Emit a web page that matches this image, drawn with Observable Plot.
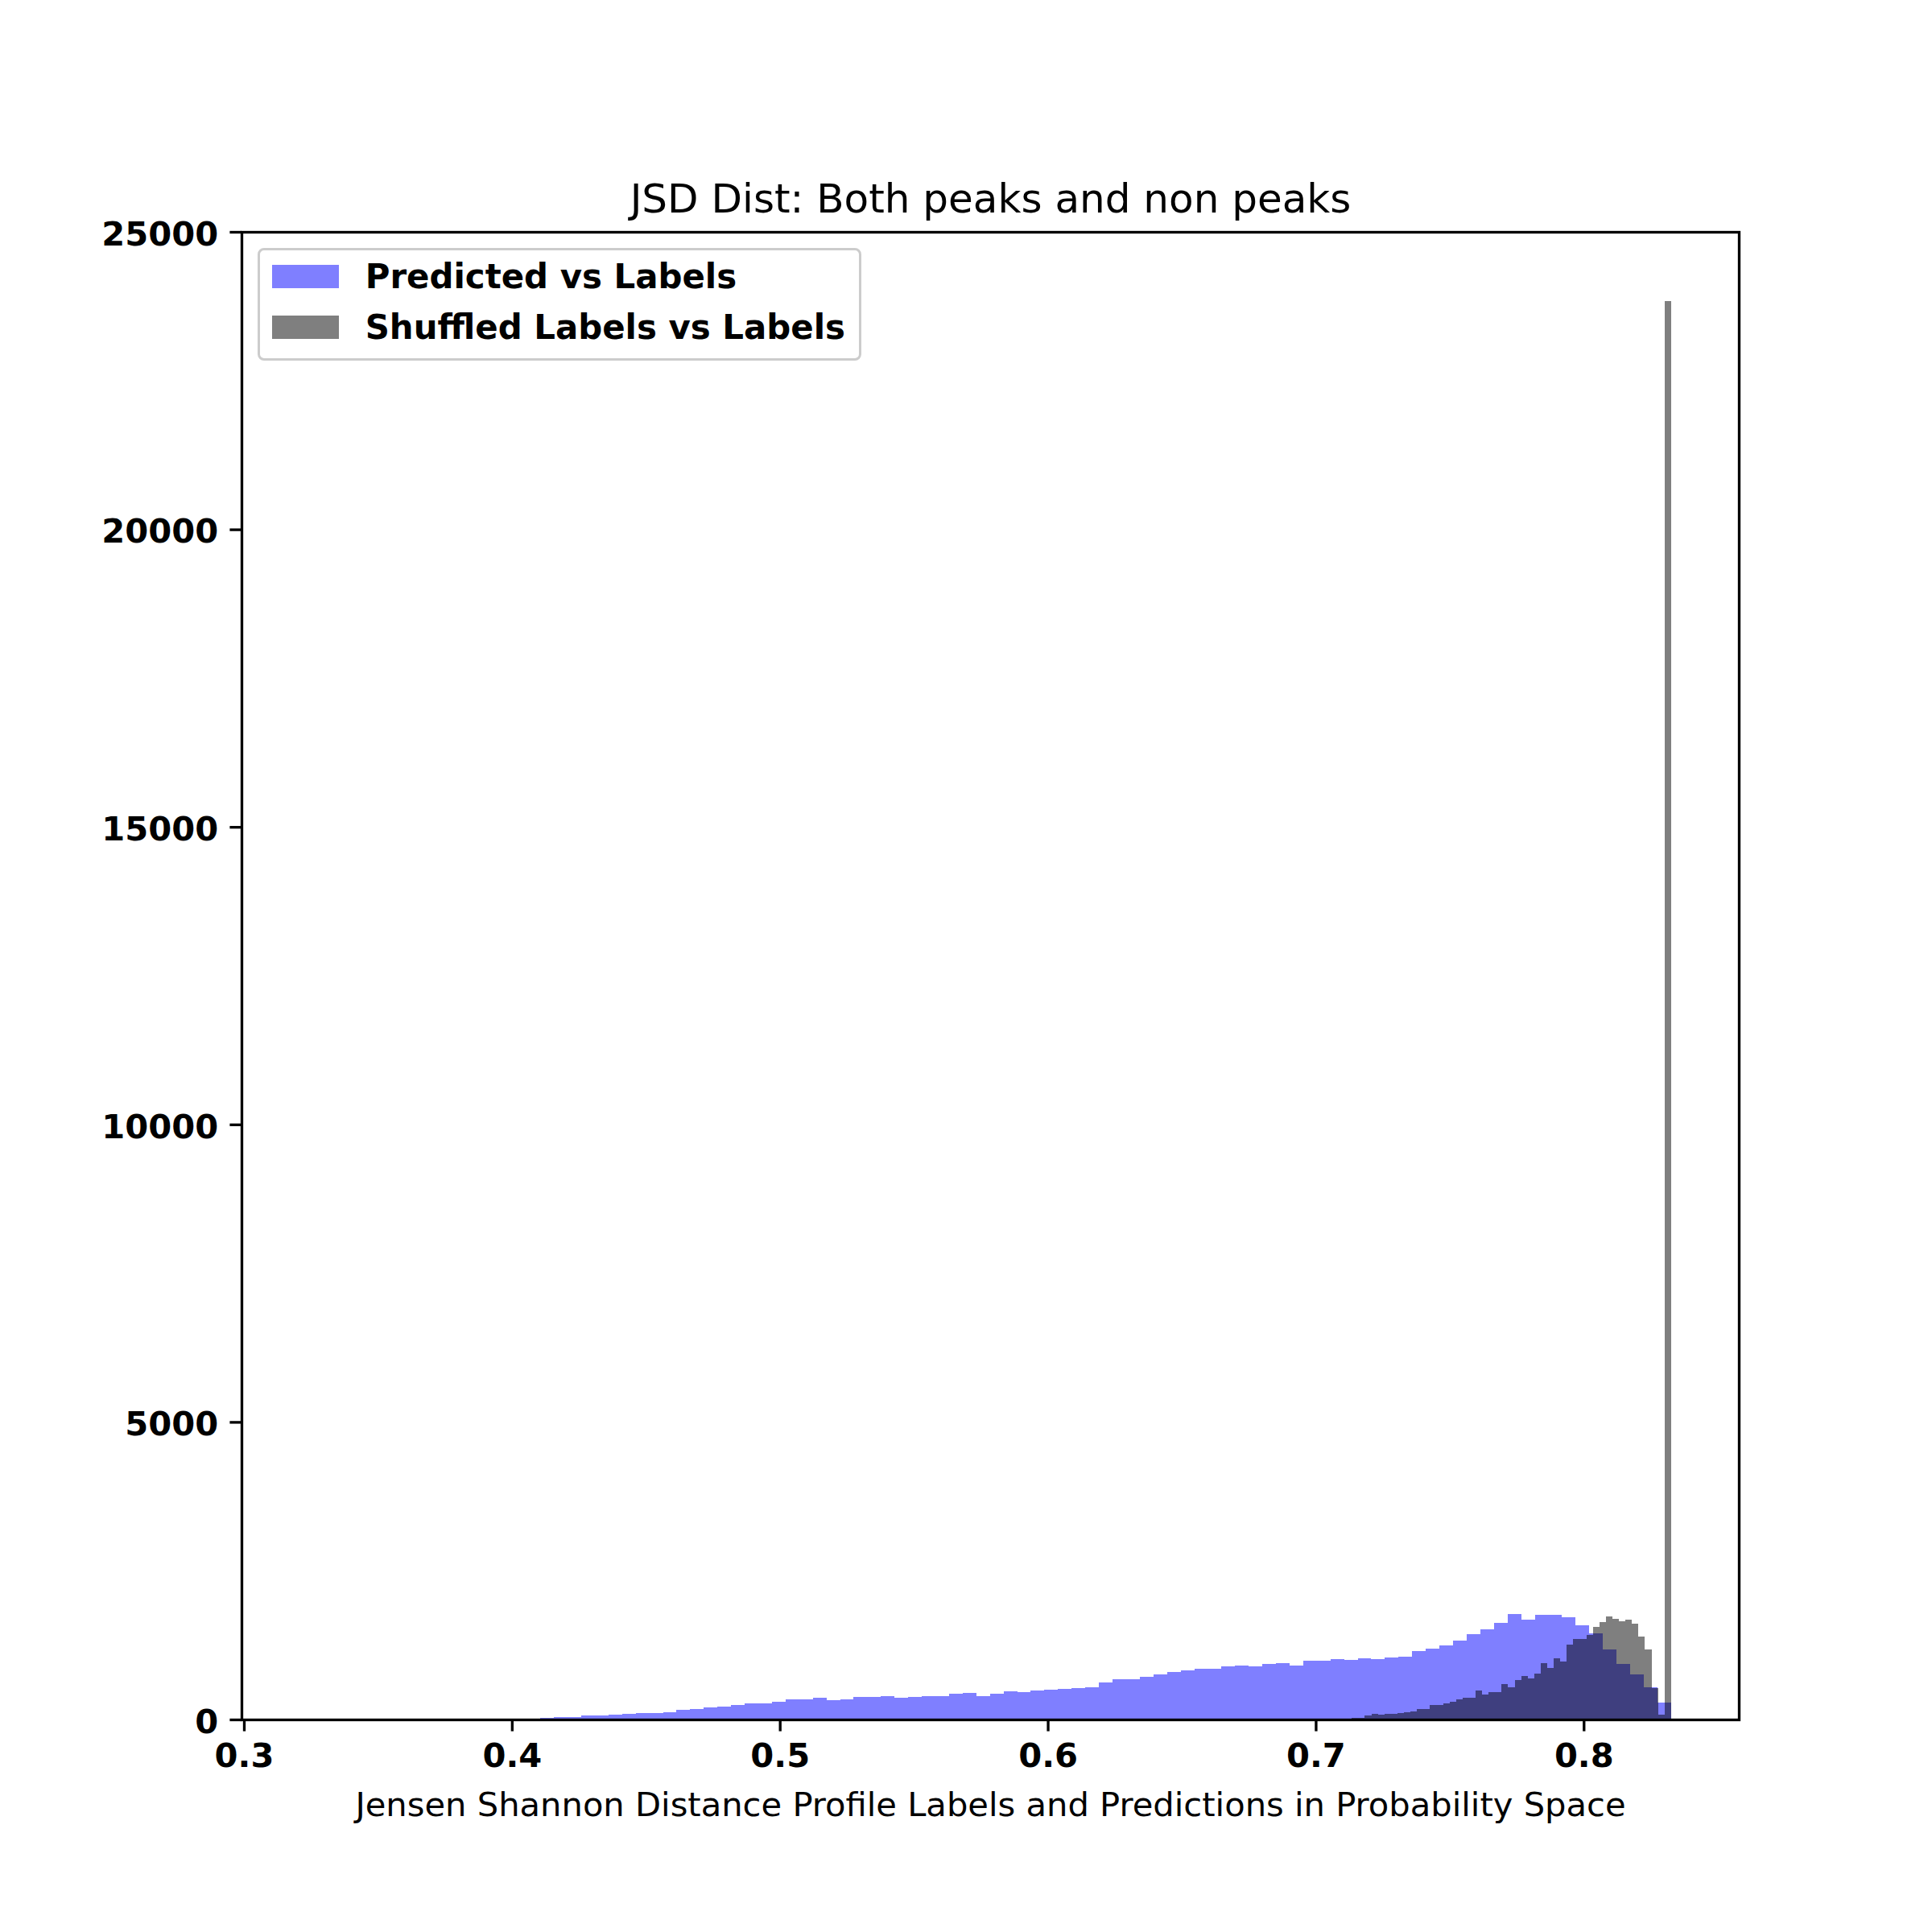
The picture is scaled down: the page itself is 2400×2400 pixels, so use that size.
<!DOCTYPE html>
<html>
<head>
<meta charset="utf-8">
<script src="https://cdn.jsdelivr.net/npm/d3@7"></script>
<script src="https://cdn.jsdelivr.net/npm/@observablehq/plot@0.6"></script>
<style>
  html, body { margin: 0; padding: 0; background: #ffffff; }
  #wrap { position: relative; width: 2400px; height: 2400px; background: #ffffff; }
  #legend {
    position: absolute; left: 320px; top: 308px; width: 750px; height: 140px;
    box-sizing: border-box; border: 3.3px solid #cccccc; border-radius: 8px;
    background: rgba(255,255,255,0.8);
    font-family: "DejaVu Sans"; font-weight: bold; font-size: 41.9px; color: #000;
  }
  .row { position: absolute; left: 14.7px; height: 29px; display: flex; align-items: center; white-space: nowrap; }
  .sw { width: 83px; height: 29px; margin-right: 33px; flex: none; }
</style>
</head>
<body>
<div id="wrap"><div id="legend"></div></div>
<script>
// ---- data ----
const titleText = "JSD Dist: Both peaks and non peaks";
const xLabelText = "Jensen Shannon Distance Profile Labels and Predictions in Probability Space";
const seriesNames = ["Predicted vs Labels", "Shuffled Labels vs Labels"];
const seriesColors = ["blue", "black"];

// histogram ranges (min, max) — 100 equal bins each
const predRange = [0.3242, 0.8326];
const shufRange = [0.5895, 0.8326];

// Predicted vs Labels counts (100 bins)
const predCounts = [
  1, 0, 0, 0, 1, 0, 1, 1, 1, 2,
  2, 3, 3, 4, 5, 6, 8, 32, 36, 40,
  68, 68, 81, 95, 108, 108, 122, 163, 176, 203,
  212, 239, 266, 266, 294, 334, 334, 361, 321, 334,
  375, 375, 388, 361, 375, 388, 388, 429, 443, 388,
  429, 470, 456, 483, 497, 510, 524, 538, 619, 673,
  673, 714, 754, 795, 822, 849, 849, 890, 903, 890,
  931, 944, 903, 985, 985, 1012, 998, 1025, 1012, 1039,
  1052, 1147, 1188, 1242, 1323, 1432, 1513, 1622, 1771, 1676,
  1757, 1757, 1716, 1581, 1445, 1174, 930, 754, 538, 280
];

// Shuffled Labels vs Labels counts (100 bins)
const shufCounts = [
  1, 0, 0, 0, 0, 0, 0, 0, 0, 0,
  0, 0, 0, 0, 0, 0, 0, 0, 0, 0,
  0, 0, 0, 0, 0, 0, 0, 0, 0, 1,
  0, 0, 0, 1, 0, 1, 0, 1, 1, 1,
  2, 1, 2, 3, 3, 4, 5, 6, 8, 10,
  20, 25, 30, 63, 90, 77, 90, 90, 104, 117,
  131, 172, 172, 239, 239, 266, 294, 334, 361, 361,
  483, 416, 456, 456, 592, 538, 659, 727, 687, 768,
  944, 863, 1025, 971, 1256, 1351, 1351, 1423, 1554, 1635,
  1730, 1689, 1649, 1676, 1608, 1391, 1174, 524, 81, 23830
];

const xTicks = [0.3, 0.4, 0.5, 0.6, 0.7, 0.8];
const yTicks = [0, 5000, 10000, 15000, 20000, 25000];
const xDomain = [0.2991, 0.8579];
const yDomain = [0, 25000];

// ---- build bin tables ----
function bins(range, counts) {
  const w = (range[1] - range[0]) / counts.length;
  return counts.map((c, i) => ({x1: range[0] + i * w, x2: range[0] + (i + 1) * w, count: c}));
}
const predTable = bins(predRange, predCounts);
const shufTable = bins(shufRange, shufCounts);

const chart = Plot.plot({
  width: 2400,
  height: 2400,
  marginLeft: 300,
  marginRight: 240,
  marginTop: 288,
  marginBottom: 264,
  style: {fontFamily: "DejaVu Sans", fontSize: "41.67px", background: "#ffffff", color: "#000000", overflow: "visible"},
  x: {domain: xDomain},
  y: {domain: yDomain},
  marks: [
    Plot.rectY(predTable, {x1: "x1", x2: "x2", y: "count", fill: seriesColors[0], fillOpacity: 0.5, inset: 0, shapeRendering: "crispEdges"}),
    Plot.rectY(shufTable, {x1: "x1", x2: "x2", y: "count", fill: seriesColors[1], fillOpacity: 0.5, inset: 0, shapeRendering: "crispEdges"}),
    Plot.axisX({ticks: xTicks, tickFormat: d3.format(".1f"), tickSize: 14.6, tickPadding: 14.6, strokeWidth: 3.33, fontWeight: "bold", label: null}),
    Plot.axisY({ticks: yTicks, tickSize: 14.6, strokeWidth: 3.33, text: null, label: null}),
    Plot.axisY({ticks: yTicks, tickFormat: d3.format("d"), tickSize: 0, tickPadding: 29.2, dy: 3, fontWeight: "bold", label: null}),
    Plot.frame({stroke: "#000000", strokeWidth: 3.33}),
    Plot.text([titleText], {text: d => d, frameAnchor: "top", dy: -25, lineAnchor: "bottom", fontSize: 50, fontWeight: "normal"}),
    Plot.text([xLabelText], {text: d => d, frameAnchor: "bottom", dy: 106, lineAnchor: "middle", fontWeight: "normal"})
  ]
});

const wrap = document.getElementById("wrap");
wrap.insertBefore(chart, wrap.firstChild);

// legend
const legend = document.getElementById("legend");
const rowTops = [17.7, 80.7];
seriesNames.forEach((name, i) => {
  const row = document.createElement("div");
  row.className = "row";
  row.style.top = rowTops[i] + "px";
  const sw = document.createElement("div");
  sw.className = "sw";
  sw.style.background = seriesColors[i];
  sw.style.opacity = 0.5;
  const t = document.createElement("span");
  t.textContent = name;
  row.appendChild(sw);
  row.appendChild(t);
  legend.appendChild(row);
});
</script>
</body>
</html>
